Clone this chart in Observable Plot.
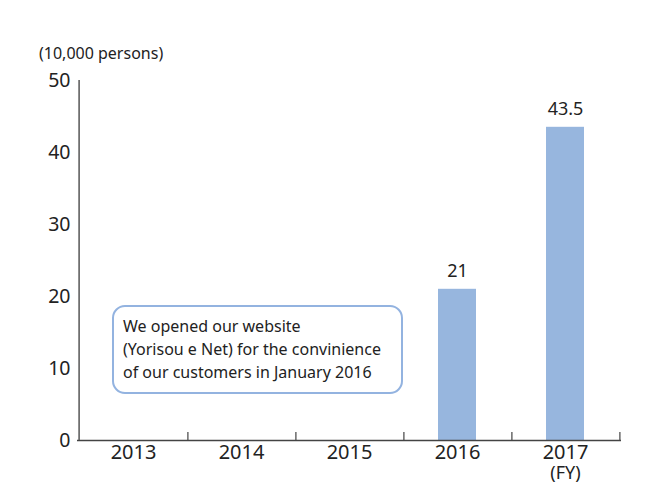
<!DOCTYPE html>
<html>
<head>
<meta charset="utf-8">
<script src="https://cdn.jsdelivr.net/npm/d3@7"></script>
<script src="https://cdn.jsdelivr.net/npm/@observablehq/plot@0.6"></script>
<style>
  html, body { margin: 0; padding: 0; background: #fff; }
  #wrap { position: relative; width: 645px; height: 486px; font-family: "Noto Sans", "Open Sans", sans-serif; color: #222; }
  #unit { position: absolute; left: 39px; top: 42px; font-size: 16px; color: #222; }
  #note { position: absolute; left: 112px; top: 305px; width: 270px; height: 68px; padding: 8px 8px 9px 9px;
          border: 2px solid #93b3e0; border-radius: 13px; font-size: 16px; line-height: 23px; color: #222; background: #fff; white-space: nowrap; }
</style>
</head>
<body>
<div id="wrap">
  <div id="chart"></div>
  <div id="unit">(10,000 persons)</div>
  <div id="note">We opened our website<br>(Yorisou e Net) for the convinience<br>of our customers in January 2016</div>
</div>
<script>
const years = ["2013", "2014", "2015", "2016", "2017"];
const users = [null, null, null, 21, 43.5];
const valueLabels = ["", "", "", "21", "43.5"];
const yTicks = [0, 10, 20, 30, 40, 50];
const fyLabel = "(FY)";

const data = years.map((y, i) => ({year: y, value: users[i], label: valueLabels[i]}));
const barData = data.filter(d => d.value != null);

const W = 645, H = 486, mL = 77, mR = 24, mT = 80, mB = 46;
const step = (W - mL - mR) / years.length;

const chart = Plot.plot({
  width: W, height: H,
  marginLeft: mL, marginRight: mR, marginTop: mT, marginBottom: mB,
  style: {fontFamily: '"Noto Sans", "Open Sans", sans-serif', color: "#222", background: "#fff"},
  x: {type: "band", domain: years, paddingInner: 0.65, paddingOuter: 0.325, label: null},
  y: {domain: [0, 50], label: null},
  marks: [
    Plot.axisY({ticks: yTicks, tickSize: 0, tickPadding: 7, fontSize: 19.5, label: null, color: "#222"}),
    Plot.axisX({tickSize: 0, tickPadding: 4, fontSize: 20, label: null}),
    Plot.text([fyLabel], {x: () => years[years.length - 1], y: () => 0, text: d => d, dy: 33, fontSize: 18, fill: "#222"}),
    Plot.barY(barData, {x: "year", y: "value", fill: "#97b6de"}),
    Plot.text(barData, {x: "year", y: "value", text: "label", dy: -18, fontSize: 18, fill: "#222"}),
    Plot.ruleY([0], {stroke: "#444", strokeWidth: 1.5}),
    Plot.ruleX([years[0]], {y1: 0, y2: 50, dx: -step / 2, stroke: "#555", strokeWidth: 1.5}),
    Plot.ruleX(years, {y1: 0, y2: 0, dx: step / 2, insetTop: -8, stroke: "#444", strokeWidth: 1.2})
  ]
});
document.getElementById("chart").appendChild(chart);
</script>
</body>
</html>
